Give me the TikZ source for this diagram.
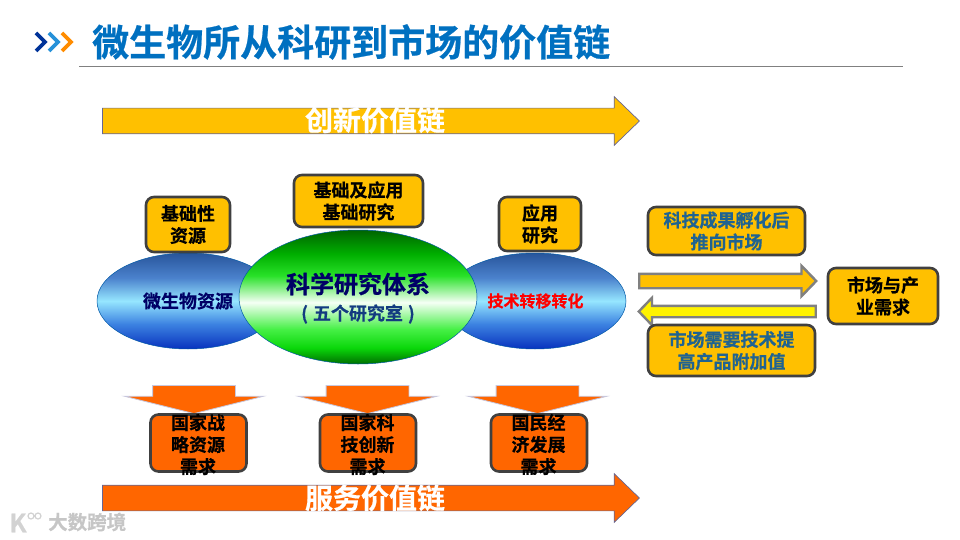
\documentclass[tikz,border=0pt]{standalone}
\usepackage{fontspec}
\setmainfont{Noto Sans CJK SC}[BoldFont={Noto Sans CJK SC Bold}, BoldFeatures={FakeBold=0.6}]
\usetikzlibrary{arrows.meta, positioning, shapes.geometric, shapes.arrows}
\definecolor{boxgold}{HTML}{FFC000}
\definecolor{boxorange}{HTML}{FF6600}
\definecolor{boxline}{HTML}{404040}
\definecolor{titleblue}{HTML}{0070C0}
\definecolor{textblue}{HTML}{1F6391}
\definecolor{navytext}{HTML}{000066}
\pgfdeclareverticalshading{blueball}{100bp}{
	color(0bp)=(rgb,255:red,8;green,50;blue,190);
	color(25bp)=(rgb,255:red,8;green,50;blue,190);
	color(38bp)=(rgb,255:red,60;green,130;blue,225);
	color(50bp)=(rgb,255:red,150;green,230;blue,255);
	color(62bp)=(rgb,255:red,75;green,130;blue,205);
	color(75bp)=(rgb,255:red,40;green,85;blue,155);
	color(100bp)=(rgb,255:red,40;green,85;blue,155)}
\pgfdeclareverticalshading{greenball}{100bp}{
	color(0bp)=(rgb,255:red,0;green,110;blue,0);
	color(25bp)=(rgb,255:red,0;green,110;blue,0);
	color(31bp)=(rgb,255:red,10;green,215;blue,10);
	color(38bp)=(rgb,255:red,70;green,240;blue,70);
	color(48bp)=(rgb,255:red,245;green,255;blue,245);
	color(58bp)=(rgb,255:red,40;green,225;blue,40);
	color(66bp)=(rgb,255:red,0;green,175;blue,0);
	color(75bp)=(rgb,255:red,0;green,100;blue,0);
	color(100bp)=(rgb,255:red,0;green,100;blue,0)}
\tikzset{
	goldbox/.style={draw=boxline, line width=2.6pt, rounded corners=8pt, fill=boxgold, inner sep=0pt, align=center, font=\fontsize{18}{22}\selectfont\bfseries},
	orangebox/.style={draw=boxline, line width=2.6pt, rounded corners=8pt, fill=boxorange, inner sep=0pt, minimum width=96pt, minimum height=57pt},
	needtext/.style={inner sep=0pt, align=center, font=\fontsize{18}{22}\selectfont\bfseries},
	bigarrow/.style={single arrow, draw=blue!30!black!60, line width=0.7pt, inner xsep=0pt, inner ysep=12.5pt, minimum height=537pt, single arrow head extend=11.5pt, single arrow tip angle=88, anchor=west},
	chainlabel/.style={inner sep=0pt, text=white, font=\fontsize{28}{28}\selectfont\bfseries},
	downarrow/.style={single arrow, shape border rotate=270, fill=boxorange, draw=blue!25!gray!35, line width=0.8pt, inner xsep=41pt, inner ysep=0pt, minimum height=28pt, single arrow head extend=28pt, single arrow tip angle=152, anchor=tip},
	sidearrow/.style={single arrow, draw=gray, line width=2.4pt, inner xsep=0pt, minimum height=177pt, single arrow tip angle=92},
	ball/.style={ellipse, draw=teal!70!blue, line width=0.5pt, inner sep=0pt, align=center},
	chevron/.style={line width=3.8pt, line join=miter}
}
\begin{document}
\begin{tikzpicture}[x=1pt, y=-1pt]
	\useasboundingbox (0,0) rectangle (960,540);
	% title
	\node[inner sep=0pt, anchor=west, text=titleblue, font=\fontsize{37}{37}\selectfont\bfseries] (title) at (92,42) {微生物所从科研到市场的价值链};
	\draw[chevron, draw=blue!50!black!80!cyan] (36,33) -- (45,42) -- (36,51);
	\draw[chevron, draw=blue!40!cyan!70!gray] (49,33) -- (58,42) -- (49,51);
	\draw[chevron, draw=orange!90!yellow] (62,33) -- (71,42) -- (62,51);
	\draw[gray, line width=0.8pt] (79,66.5) -- (903,66.5);
	% top and bottom chains
	\node[bigarrow, fill=boxgold] (topchain) at (102,121) {};
	\node[chainlabel] (toplabel) at (375,120) {创新价值链};
	\node[bigarrow, fill=boxorange] (botchain) at (102,498) {};
	% the three fields
	\node[ball, shade, shading=blueball, minimum width=182pt, minimum height=96pt, text=navytext, font=\fontsize{18}{20}\selectfont\bfseries] (microbe) at (188,301) {微生物资源};
	\node[ball, shade, shading=blueball, minimum width=182pt, minimum height=96pt, text=red, font=\fontsize{16}{20}\selectfont\bfseries] (transfer) at (535,301) {\hspace*{1pt}技术转移转化};
	\node[ball, shade, shading=greenball, minimum width=238pt, minimum height=134pt] (science) at (358,297) {};
	\node[inner sep=0pt, text=navytext, font=\fontsize{24}{24}\selectfont\bfseries] (sciencetext) at (358,284) {科学研究体系};
	\node[inner sep=0pt, text=textblue!60!navytext, font=\fontsize{18}{18}\selectfont\bfseries] (sciencesub) at (358,314) {(\hspace{5pt}五个研究室\hspace{5pt})};
	% gold boxes
	\node[goldbox, minimum width=84pt, minimum height=55pt] (basic) at (188,224.5) {基础性\\资源};
	\node[goldbox, minimum width=129pt, minimum height=52pt] (appbasic) at (358.5,201) {基础及应用\\基础研究};
	\node[goldbox, minimum width=82pt, minimum height=54pt] (applied) at (540,224) {应用\\研究};
	% market side
	\node[sidearrow, fill=boxgold, anchor=west, inner ysep=6pt, single arrow head extend=8pt] (toward) at (638,281) {};
	\node[sidearrow, fill=yellow, shape border rotate=180, anchor=east, inner ysep=4.5pt, single arrow head extend=8pt] (back) at (817,311.5) {};
	\node[goldbox, text=textblue, minimum width=157pt, minimum height=48pt] (incubate) at (726.5,231) {科技成果孵化后\\推向市场};
	\node[goldbox, text=textblue, minimum width=167pt, minimum height=51pt] (upgrade) at (731.5,350.5) {市场需要技术提\\高产品附加值};
	\node[goldbox, minimum width=110pt, minimum height=56pt] (market) at (883,296) {市场与产\\业需求};
	% demand arrows and boxes
	\node[downarrow] (downa) at (194,414) {};
	\node[downarrow] (downb) at (367.5,414) {};
	\node[downarrow] (downc) at (537.5,414) {};
	\node[orangebox] (needa) at (198.5,443) {};
	\node[orangebox] (needb) at (368,443) {};
	\node[orangebox] (needc) at (539,443) {};
	\node[needtext] (texta) at (198,444.5) {国家战\\略资源\\需求};
	\node[needtext] (textb) at (367.5,444.5) {国家科\\技创新\\需求};
	\node[needtext] (textc) at (538.5,444.5) {国民经\\济发展\\需求};
	\node[chainlabel] (botlabel) at (375,498) {服务价值链};
	% watermark
	\node[inner sep=0pt, anchor=west, text=gray!45, font=\fontsize{19.5}{19.5}\selectfont\bfseries] (mark) at (48,522) {大数跨境};
	\node[inner sep=0pt, text=gray!35, font=\fontsize{25}{25}\selectfont\bfseries] (logo) at (18,523) {K};
	\draw[gray!35, line width=1.2pt] (31,516) circle (3pt) (38,516) circle (3pt);
\end{tikzpicture}
\end{document}
